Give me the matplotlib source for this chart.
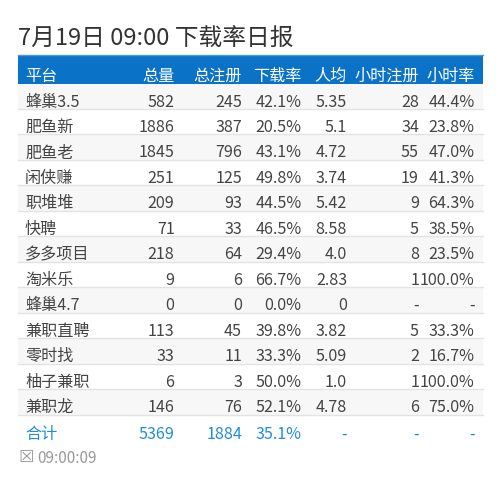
import matplotlib
matplotlib.use("Agg")
import matplotlib.pyplot as plt
from matplotlib.patches import Rectangle

plt.rcParams['font.family'] = ['Noto Sans CJK SC', 'DejaVu Sans']

title = "7月19日 09:00 下载率日报"
columns = ["平台", "总量", "总注册", "下载率", "人均", "小时注册", "小时率"]
platforms = ["蜂巢3.5", "肥鱼新", "肥鱼老", "闲侠赚", "职堆堆", "快聘", "多多项目", "淘米乐", "蜂巢4.7",
             "兼职直聘", "零时找", "柚子兼职", "兼职龙"]
totals = ["582", "1886", "1845", "251", "209", "71", "218", "9", "0", "113", "33", "6", "146"]
registers = ["245", "387", "796", "125", "93", "33", "64", "6", "0", "45", "11", "3", "76"]
download_rates = ["42.1%", "20.5%", "43.1%", "49.8%", "44.5%", "46.5%", "29.4%", "66.7%", "0.0%",
                  "39.8%", "33.3%", "50.0%", "52.1%"]
per_person = ["5.35", "5.1", "4.72", "3.74", "5.42", "8.58", "4.0", "2.83", "0", "3.82", "5.09", "1.0", "4.78"]
hour_registers = ["28", "34", "55", "19", "9", "5", "8", "1", "-", "5", "2", "1", "6"]
hour_rates = ["44.4%", "23.8%", "47.0%", "41.3%", "64.3%", "38.5%", "23.5%", "100.0%", "-",
              "33.3%", "16.7%", "100.0%", "75.0%"]
footer = ["合计", "5369", "1884", "35.1%", "-", "-", "-"]
timestamp = "09:00:09"

TEXT = "#444444"
BLUE = "#0a73c8"
FOOT = "#1f8ddb"
LINE = "#e3e3e3"
ODD = "#f7f7f7"
FS = 11.6
left, right = 18, 483
head_top, head_bot = 55, 84
row_h = 25.47
col_right = [None, 174.5, 242, 301.5, 347, 419, 474.5]
text_left = 25

fig = plt.figure(figsize=(5, 4.9), dpi=100)
ax = fig.add_axes([0, 0, 1, 1])
ax.set_xlim(0, 500)
ax.set_ylim(490, 0)
ax.axis("off")

ax.text(18.5, 39, title, fontsize=17.1, color="#333333", va="center", ha="left")
ax.add_patch(Rectangle((left, head_top), right - left, head_bot - head_top, fc=BLUE, ec="none"))
ax.plot([left, right], [head_top + .5] * 2, color="#4a9bdc", lw=1)

for j, c in enumerate(columns):
    if j == 0:
        ax.text(text_left, 76, c, fontsize=FS, color="white", va="center", ha="left")
    else:
        ax.text(col_right[j], 76, c, fontsize=FS, color="white", va="center", ha="right")

cols = [platforms, totals, registers, download_rates, per_person, hour_registers, hour_rates]
for i in range(len(platforms)):
    top = head_bot + i * row_h
    bot = top + row_h
    if i % 2 == 0:
        ax.add_patch(Rectangle((left, top), right - left, row_h, fc=ODD, ec="none"))
    ax.plot([left, right], [bot - 0.5] * 2, color=LINE, lw=1)
    y = top + 18
    for j, col in enumerate(cols):
        if j == 0:
            ax.text(text_left, y, col[i], fontsize=FS, color=TEXT, va="center", ha="left")
        else:
            ax.text(col_right[j], y, col[i], fontsize=FS, color=TEXT, va="center", ha="right")

fy = head_bot + len(platforms) * row_h + 19
for j, v in enumerate(footer):
    if j == 0:
        ax.text(text_left, fy, v, fontsize=FS, color=FOOT, va="center", ha="left")
    else:
        ax.text(col_right[j], fy, v, fontsize=FS, color=FOOT, va="center", ha="right")

ax.text(18, 457, "\u2612", fontsize=12.5, color="#999999", va="center", ha="left", family="DejaVu Sans")
ax.text(37.5, 458, timestamp, fontsize=11, color="#999999", va="center", ha="left")

fig.savefig("out.png", dpi=100)
